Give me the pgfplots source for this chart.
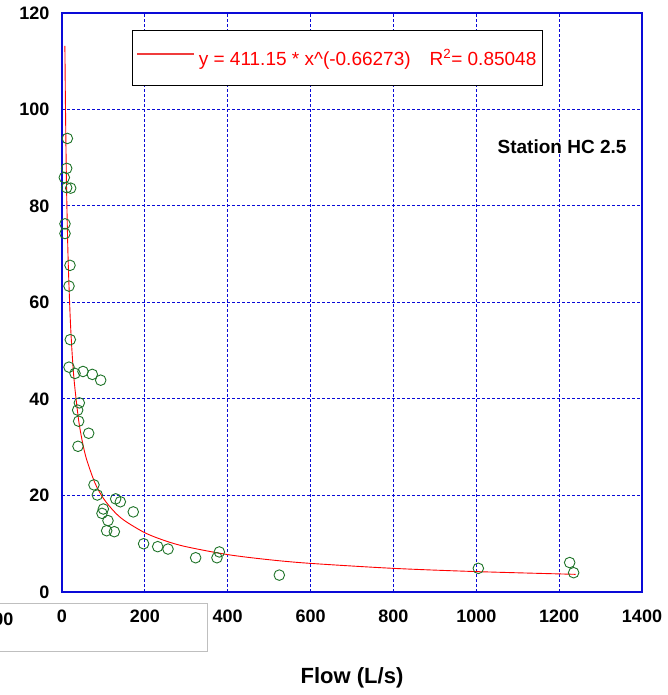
\documentclass[border=0pt]{standalone}
\usepackage{pgfplots}
\pgfplotsset{compat=1.18}
\usepackage{fontspec}
\setmainfont{Liberation Sans}
\definecolor{ptgreen}{RGB}{30,115,40}
\definecolor{gridblue}{RGB}{10,10,215}
\definecolor{legred}{RGB}{240,60,60}
\begin{document}
\begin{tikzpicture}
\useasboundingbox (-62pt,-103pt) rectangle (605pt,592pt);
\begin{axis}[
  at={(0pt,0pt)}, anchor=south west,
  scale only axis, width=580pt, height=579pt,
  xmin=0, xmax=1400, ymin=0, ymax=120,
  xtick={0,200,...,1400}, ytick={0,20,...,120},
  scaled ticks=false,
  /pgf/number format/1000 sep={},
  /pgf/number format/assume math mode=true,
  tick label style={font=\fontsize{18}{18}\selectfont\bfseries},
  xticklabel style={yshift=-14pt},
  yticklabel style={xshift=-9pt},
  major tick length=0pt,
  every axis grid/.style={},
  every major grid/.style={draw=gridblue, color=gridblue, line width=1pt, dash pattern=on 3pt off 2pt},
  xmajorgrids=true, ymajorgrids=true,
  axis line style={gridblue, line width=1.6pt},
  clip=false,
  xlabel={Flow (L/s)},
  xlabel style={font=\fontsize{22}{22}\selectfont\bfseries, at={(axis description cs:0.5,0)}, anchor=center, yshift=-86pt},
  legend style={at={(rel axis cs:0.1207,0.9706)}, anchor=north west, draw=black, line width=1pt, fill=white,
    inner xsep=4pt, inner ysep=17pt, font=\fontsize{19}{19}\selectfont, text=red},
  legend image code/.code={\draw[draw=legred, color=legred, line width=1.3pt] (0pt,4pt) -- (57pt,4pt);},
]
\addplot[only marks, mark=o, mark size=5.3pt, mark options={draw=ptgreen, line width=0.9pt}, forget plot] coordinates {
(12.9,94.0) (11.3,87.8) (5.6,85.9) (11.3,83.8) (21,83.7)
(7.2,76.3) (7.2,74.3) (19.3,67.7) (16.9,63.4) (20,52.3)
(16.9,46.6) (31.4,45.3) (50.7,45.7) (73.2,45.1) (93.4,43.9)
(41.8,39.2) (37.8,37.7) (40.2,35.4) (64.4,32.9) (38.6,30.2)
(77.2,22.2) (85.3,20.1) (129.6,19.3) (140.8,18.7) (99.8,17.2)
(96.5,16.3) (111,14.8) (172,16.6) (107.8,12.7) (126.3,12.5)
(197,10.0) (231,9.4) (255.9,8.9) (322.6,7.1) (374,7.1)
(379.8,8.3) (524.5,3.5) (1004.9,4.9) (1225.4,6.1) (1235,4.0)
};
\addplot[red, line width=0.9pt, smooth] coordinates {
(7,113.2) (8,103.6) (10,89.4) (12,79.2) (15,68.3) (20,56.5) (25,48.7)
(30,43.2) (40,35.7) (50,30.8) (60,27.3) (80,22.5) (100,19.4) (125,16.76)
(150,14.85) (200,12.28) (250,10.59) (300,9.38) (400,7.75) (500,6.69)
(600,5.93) (800,4.90) (1000,4.23) (1240,3.66)
};
\addlegendentry{\hspace{2pt}y = 411.15 * x\^{}(-0.66273)\quad R\textsuperscript{2}= 0.85048\hspace{13pt}}
\node[font=\fontsize{19}{19}\selectfont\bfseries] at (axis cs:1207,92.2) {Station HC 2.5};
\end{axis}
\draw[gray!50, line width=0.8pt] (-70pt,-59pt) rectangle (145pt,-11pt);
\node[anchor=east, font=\fontsize{18}{18}\selectfont\bfseries, inner sep=0pt] at (-48.5pt,-27pt) {200};
\end{tikzpicture}
\end{document}
